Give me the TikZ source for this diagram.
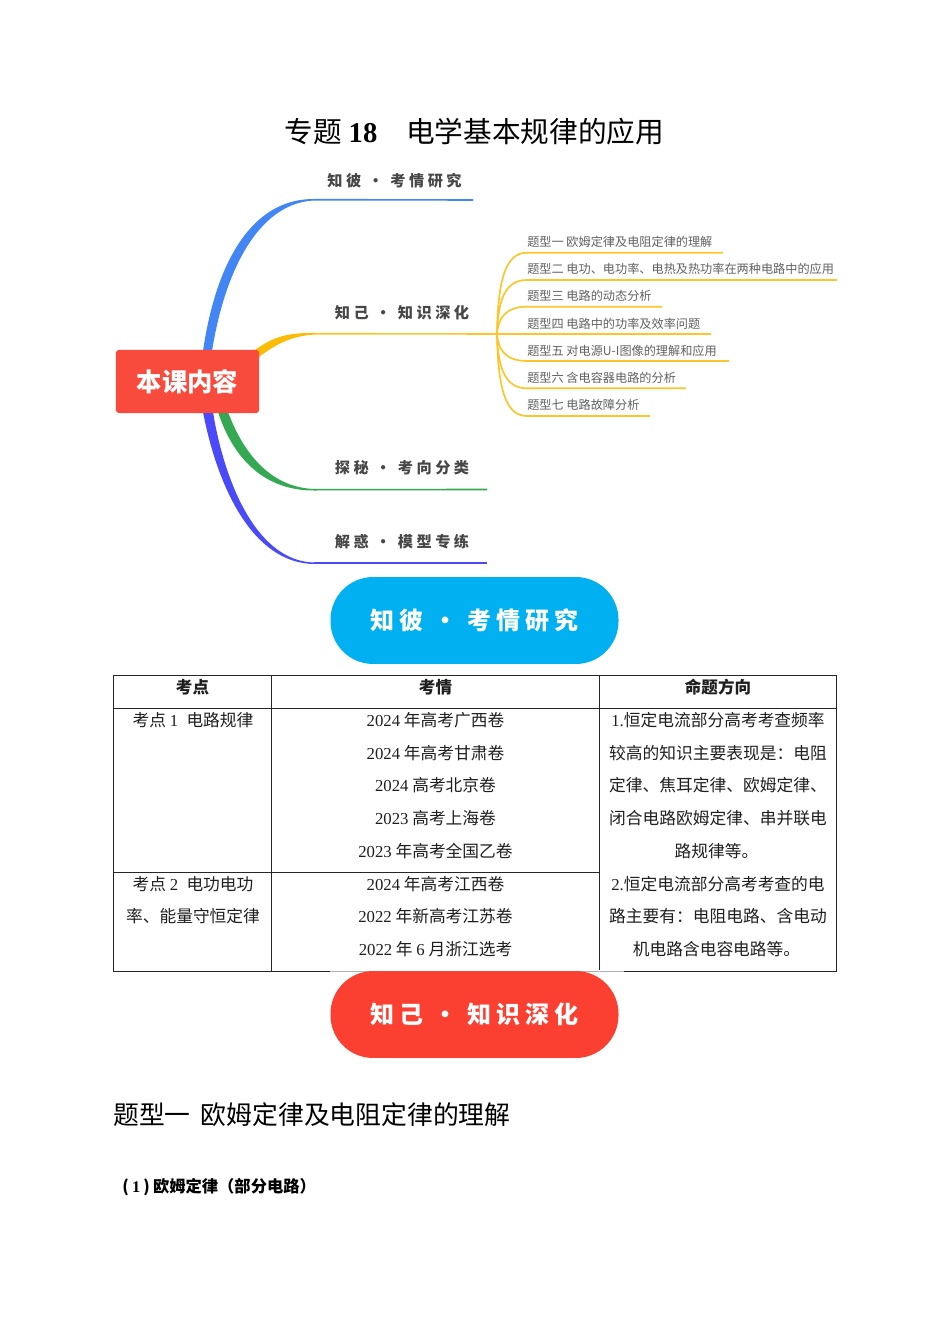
\documentclass[tikz,border=0pt]{standalone}
\usepackage{fontspec}
\setmainfont{Noto Sans CJK SC}
\newfontfamily\lat{Liberation Serif}
\newfontfamily\hand[LetterSpace=23]{Noto Sans CJK SC}
\newfontfamily\handbig[LetterSpace=20]{Noto Sans CJK SC}
\newcommand{\nm}[1]{{\lat #1}}
\definecolor{cblue}{HTML}{4285F4}
\definecolor{cyel}{HTML}{FBBC05}
\definecolor{cgrn}{HTML}{34A853}
\definecolor{cind}{HTML}{4A4AF8}
\definecolor{cred}{HTML}{F94B3D}
\definecolor{cpb}{HTML}{00B0F0}
\definecolor{cpr}{HTML}{FB4032}
\tikzset{
 x=0.75pt,y=-0.75pt,
 branchlab/.style={font=\hand\bfseries\fontsize{11.4}{13}\selectfont,text=black!72,inner sep=0,anchor=center},
 sublab/.style={font=\fontsize{9.12}{11}\selectfont,text=black!62,inner sep=0,anchor=west},
 fan/.style={draw=cyel!85!white,line width=1.25pt},
 stem/.style={line width=1.2pt},
 pill/.style={rounded corners=32pt,minimum width=216pt,minimum height=65.2pt,inner sep=0,text=white,font=\handbig\bfseries\fontsize{18}{20}\selectfont},
 cell/.style={font=\fontsize{12.55}{14}\selectfont,text=black!88,inner sep=0,anchor=center},
 head/.style={cell,font=\bfseries\fontsize{12.4}{14}\selectfont},
 rule/.style={draw=black!85,line width=0.7pt},
}
\begin{document}
\begin{tikzpicture}
\useasboundingbox[fill=white] (0,0) rectangle (950,1344);
% title
\node[inner sep=0,font=\fontsize{21.5}{24}\selectfont,text=black] (title) at (474.5,132) {专题 {\lat\bfseries 18}\hspace{1em}电学基本规律的应用};
% tapered branches
\fill[cblue] (203,351) .. controls (216,262) and (252,198) .. (315,199) -- (315,200.5) .. controls (262,202) and (226,264) .. (212,351) -- cycle;
\fill[cyel] (255,350) .. controls (272,338) and (285,332.5) .. (315,333) -- (315,334.5) .. controls (290,336) and (275,345) .. (259,357) -- cycle;
\fill[cgrn] (218,412) .. controls (233,458) and (264,491) .. (315,490.5) -- (315,489) .. controls (272,488) and (244,455) .. (228,412) -- cycle;
\fill[cind] (203,412) .. controls (217,485) and (252,564) .. (315,564) -- (315,562.5) .. controls (256,562) and (224,480) .. (213,412) -- cycle;
% root
\node[fill=cred,rounded corners=2.5pt,minimum width=107.5pt,minimum height=47.5pt,inner sep=0,text=white,font=\bfseries\fontsize{19}{22}\selectfont] (root) at (187.5,381.5) {本课内容};
% main branch stems
\coordinate (b1s) at (314,199.7); \coordinate (b1e) at (473,200);
\coordinate (hub) at (497,334);   \coordinate (b2s) at (314,333.7);
\coordinate (b3s) at (314,489.7); \coordinate (b3e) at (487,489.5);
\coordinate (b4s) at (314,563.2); \coordinate (b4e) at (487,563.2);
\draw[stem,cblue] (b1s) -- (b1e);
\draw[stem,cyel!85!white] (b2s) -- (hub);
\draw[stem,cgrn] (b3s) -- (b3e);
\draw[stem,cind] (b4s) -- (b4e);
\node[branchlab] (l1) at (394.5,181) {知彼 · 考情研究};
\node[branchlab] (l2) at (402,312.5) {知己 · 知识深化};
\node[branchlab] (l3) at (402,468) {探秘 · 考向分类};
\node[branchlab] (l4) at (402,541.5) {解惑 · 模型专练};
% fan
\coordinate (e1) at (723,252.7); \coordinate (e2) at (837,280);
\coordinate (e3) at (662,306.7); \coordinate (e4) at (711,334);
\coordinate (e5) at (729,361);   \coordinate (e6) at (686,388.3);
\coordinate (e7) at (650,416);
\draw[fan] (hub) .. controls (498,278) and (506,252.7) .. (527,252.7) -- (e1);
\draw[fan] (hub) .. controls (498,298) and (506,280) .. (527,280) -- (e2);
\draw[fan] (hub) .. controls (498,318) and (506,306.7) .. (527,306.7) -- (e3);
\draw[fan] (hub) -- (e4);
\draw[fan] (hub) .. controls (498,350) and (506,361) .. (527,361) -- (e5);
\draw[fan] (hub) .. controls (498,370) and (506,388.3) .. (527,388.3) -- (e6);
\draw[fan] (hub) .. controls (498,390) and (506,416) .. (527,416) -- (e7);
\node[sublab] (s1) at (527,241.5) {题型一 欧姆定律及电阻定律的理解};
\node[sublab] (s2) at (527,269) {题型二 电功、电功率、电热及热功率在两种电路中的应用};
\node[sublab] (s3) at (527,296) {题型三 电路的动态分析};
\node[sublab] (s4) at (527,323.5) {题型四 电路中的功率及效率问题};
\node[sublab] (s5) at (527,351) {题型五 对电源U-I图像的理解和应用};
\node[sublab] (s6) at (527,378) {题型六 含电容器电路的分析};
\node[sublab] (s7) at (527,405) {题型七 电路故障分析};
% table rules
\coordinate (tl) at (113.5,675.5); \coordinate (tr) at (836.5,675.5);
\coordinate (bl) at (113.5,971);   \coordinate (br) at (836.5,971);
\draw[rule] (tl) -- (tr) -- (br) -- (bl) -- cycle;
\draw[rule] (271.5,675.5) -- (271.5,971);
\draw[rule] (599.5,675.5) -- (599.5,971);
\draw[rule] (113.5,708.5) -- (836.5,708.5);
\draw[rule] (113.5,872.5) -- (599.5,872.5);
\fill[white] (330,970) rectangle (624,972);
\draw[black!30,line width=0.5pt] (330,971) -- (624,971);
% pills
\node[pill,fill=cpb] (p1) at (474.5,620.5) {知彼 · 考情研究};
\node[pill,fill=cpr] (p2) at (474.5,1014.5) {知己 · 知识深化};
% table text
\node[head] (h1) at (192.5,687) {考点};
\node[head] (h2) at (435.5,687) {考情};
\node[head] (h3) at (718,687) {命题方向};
\node[cell] (a1) at (193,720.5) {考点 \nm{1}\hspace{0.5em}电路规律};
\node[cell] (a2) at (193,884) {考点 \nm{2}\hspace{0.5em}电功电功};
\node[cell] (a3) at (193,916.5) {率、能量守恒定律};
\node[cell] (c1) at (435.5,720.5) {\nm{2024} 年高考广西卷};
\node[cell] (c2) at (435.5,753) {\nm{2024} 年高考甘肃卷};
\node[cell] (c3) at (435.5,785.5) {\nm{2024} 高考北京卷};
\node[cell] (c4) at (435.5,818) {\nm{2023} 高考上海卷};
\node[cell] (c5) at (435.5,851) {\nm{2023} 年高考全国乙卷};
\node[cell] (c6) at (435.5,884) {\nm{2024} 年高考江西卷};
\node[cell] (c7) at (435.5,916.5) {\nm{2022} 年新高考江苏卷};
\node[cell] (c8) at (435.5,949.5) {\nm{2022} 年 \nm{6} 月浙江选考};
\node[cell] (d1) at (718,720.5) {\nm{1.}恒定电流部分高考考查频率};
\node[cell] (d2) at (718,753) {较高的知识主要表现是：电阻};
\node[cell] (d3) at (718,785.5) {定律、焦耳定律、欧姆定律、};
\node[cell] (d4) at (718,818) {闭合电路欧姆定律、串并联电};
\node[cell] (d5) at (716.5,851) {路规律等。};
\node[cell] (d6) at (718,884) {\nm{2.}恒定电流部分高考考查的电};
\node[cell] (d7) at (718,916.5) {路主要有：电阻电路、含电动};
\node[cell] (d8) at (716.5,949.5) {机电路含电容电路等。};
% body
\node[inner sep=0,anchor=west,text=black,font=\fontsize{19.35}{22}\selectfont] (q1) at (113,1115) {题型一\hspace{0.4em}欧姆定律及电阻定律的理解};
\node[inner sep=0,anchor=west,text=black,font=\bfseries\fontsize{12.2}{14}\selectfont] (q2) at (122,1187.5) {(\hspace{.2em}\nm{\bfseries 1}\hspace{.2em})\hspace{.2em}欧姆定律（部分电路）};
\end{tikzpicture}
\end{document}
